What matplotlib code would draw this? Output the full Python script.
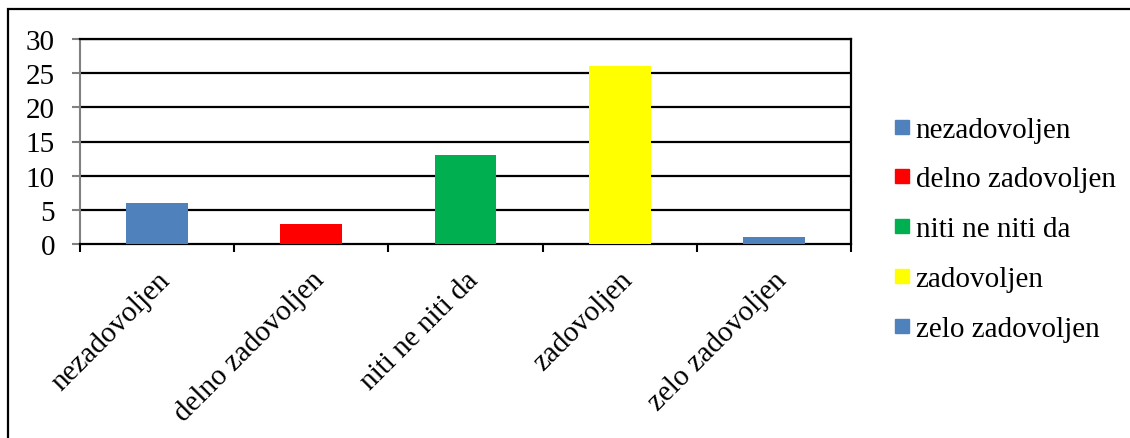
import matplotlib
matplotlib.use('Agg')
import matplotlib.pyplot as plt
from matplotlib.patches import Rectangle
from matplotlib.lines import Line2D
import numpy as np

categories = ['nezadovoljen', 'delno zadovoljen', 'niti ne niti da', 'zadovoljen', 'zelo zadovoljen']
values = [6, 3, 13, 26, 1]
colors = ['#4F81BD', '#FF0000', '#00B050', '#FFFF00', '#4F81BD']
yticks = [0, 5, 10, 15, 20, 25, 30]

plt.rcParams['font.family'] = ['Liberation Serif', 'DejaVu Serif']

fig = plt.figure(figsize=(11.3, 4.39), dpi=100)
ax = fig.add_axes([80/1130, 1 - 245/439, (851-80)/1130, (245-40)/439])

x = np.arange(len(categories))
ax.bar(x, values, width=0.4, color=colors, zorder=3)

ax.set_xlim(-0.5, len(categories) - 0.5)
ax.set_ylim(0, 30)
ax.set_yticks(yticks)
ax.set_yticklabels([str(t) for t in yticks], fontsize=21)
for t in yticks[1:]:
    ax.axhline(t, color='black', lw=1.6, zorder=1)

ax.set_xticks(x)
ax.set_xticklabels(categories, rotation=45, ha='right', rotation_mode='anchor', fontsize=21)
ax.tick_params(axis='x', which='major', length=0, pad=16)
ax.set_xticks(np.arange(-0.5, len(categories)), minor=True)
ax.tick_params(axis='x', which='minor', length=6, width=1.5, color='black', direction='out')
ax.tick_params(axis='y', length=6, width=1.5, color='#808080', pad=12)

ax.spines['left'].set_color('#808080')
ax.spines['left'].set_linewidth(1.5)
for s in ['bottom', 'right', 'top']:
    ax.spines[s].set_color('black')
    ax.spines[s].set_linewidth(1.6)

handles = [Line2D([], [], marker='s', linestyle='none', markersize=10,
                  markerfacecolor=c, markeredgecolor=c) for c in colors]
fig.legend(handles, categories, loc='center left', bbox_to_anchor=(882/1130, 1 - 230/439),
           frameon=False, fontsize=21, handlelength=0.6, handletextpad=0.15,
           labelspacing=0.8, borderaxespad=0)

# outer frame around the chart
fig.patches.append(Rectangle((8/1130, -0.1), 1.2, 1 - 10/439 + 0.1,
                             transform=fig.transFigure, fill=False,
                             edgecolor='black', lw=1.6))

fig.savefig('out.png', dpi=100)
